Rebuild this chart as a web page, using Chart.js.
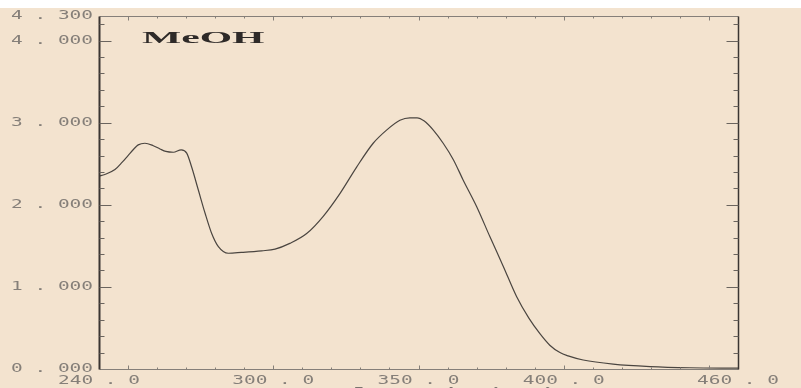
<!DOCTYPE html>
<html>
<head>
<meta charset="utf-8">
<script src="https://cdn.jsdelivr.net/npm/chart.js@4"></script>
<style>
  html, body { margin: 0; padding: 0; background: #f3e3cf; overflow: hidden; }
</style>
</head>
<body>
<canvas id="spectrum" width="801" height="388"></canvas>
<script>
// UV-Vis absorption spectrum in methanol
const wavelengths = [240, 242, 245.5, 248, 250, 252, 253.5, 255.8, 258.7, 261,
  263, 265.6, 268.3, 270.2, 271.9, 274.2, 276.5, 278.8, 281.1, 284.5,
  289, 296, 300.6, 305.7, 311.5, 317.2, 323, 328.7, 334.4, 339,
  343.6, 347, 349.5, 352, 355.1, 358.5, 362, 365.4, 370, 374.6,
  379.2, 383.8, 388, 391.8, 395.2, 398.7, 401.5, 406.7, 417, 429.7,
  443.4, 460];
const absorbance = [2.35, 2.37, 2.43, 2.52, 2.60, 2.68, 2.73, 2.75, 2.72, 2.68,
  2.65, 2.64, 2.67, 2.63, 2.46, 2.18, 1.90, 1.65, 1.49, 1.41,
  1.42, 1.44, 1.46, 1.53, 1.65, 1.86, 2.14, 2.46, 2.75, 2.91,
  3.03, 3.06, 3.06, 3.02, 2.91, 2.75, 2.55, 2.30, 1.98, 1.61,
  1.25, 0.88, 0.62, 0.43, 0.29, 0.20, 0.16, 0.11, 0.06, 0.03,
  0.015, 0.01];

const yLabels = [0, 1, 2, 3, 4, 4.3];
const xLabels = [240, 300, 350, 400, 460];
const solvent = 'MeOH';
const xTitle = 'Wavelength (nm)';

const BG = '#f3e3cf';
const INK = '#3a3532';
const GREY = '#857f79';

// text stretched wide like the plotter font
function wideText(ctx, text, px, py, sx, align, baseline) {
  ctx.save();
  ctx.translate(px, py);
  ctx.scale(sx, 1);
  ctx.textAlign = align;
  ctx.textBaseline = baseline;
  ctx.fillText(text, 0, 0);
  ctx.restore();
}

function line(ctx, x1, y1, x2, y2) {
  ctx.beginPath();
  ctx.moveTo(x1, y1);
  ctx.lineTo(x2, y2);
  ctx.stroke();
}

const framePlugin = {
  id: 'frame',
  beforeDraw(chart) {
    const ctx = chart.ctx;
    ctx.save();
    ctx.fillStyle = BG;
    ctx.fillRect(0, 0, chart.width, chart.height);
    ctx.fillStyle = '#ffffff';
    ctx.fillRect(0, 0, chart.width, 8);
    ctx.restore();
  },
  afterDraw(chart) {
    const { ctx, chartArea: a, scales: { x, y } } = chart;
    const L = Math.round(a.left) + 0.5, R = Math.round(a.right) + 0.5;
    const T = Math.round(a.top) + 0.5, B = Math.round(a.bottom) + 0.5;
    ctx.save();

    // top and bottom axes
    ctx.strokeStyle = GREY;
    ctx.lineWidth = 1;
    line(ctx, L, T, R, T);
    line(ctx, L, B, R, B);
    for (let v = 250; v < 460; v += 10) {
      const px = Math.round(x.getPixelForValue(v)) + 0.5;
      const len = v % 50 === 0 ? 4 : 2;
      line(ctx, px, B, px, B - len);
      line(ctx, px, T, px, T + len);
    }

    // left and right axes
    ctx.strokeStyle = INK;
    ctx.lineWidth = 2;
    line(ctx, L, T, L, B);
    ctx.lineWidth = 1.5;
    line(ctx, R, T, R, B);
    ctx.lineWidth = 1;
    ctx.strokeStyle = '#6a645e';
    for (let i = 1; i < 22; i++) {
      const v = i * 0.2;
      const py = Math.round(y.getPixelForValue(v)) + 0.5;
      const len = i % 5 === 0 ? 12 : 5;
      line(ctx, L, py, L + len, py);
      line(ctx, R, py, R - len, py);
    }

    // tick labels
    ctx.fillStyle = GREY;
    ctx.font = '12px "DejaVu Sans Mono"';
    yLabels.forEach(v => {
      const s = v.toFixed(3).replace('.', ' . ');
      wideText(ctx, s, 93, y.getPixelForValue(v), 1.62, 'right', 'middle');
    });
    xLabels.forEach(v => {
      const s = v.toFixed(1).replace('.', ' . ');
      wideText(ctx, s, x.getPixelForValue(v), B + 5, 1.62, 'center', 'top');
    });

    // axis title, mostly below the bottom edge
    ctx.font = '13px "DejaVu Sans Mono"';
    ctx.fillStyle = '#7a746e';
    wideText(ctx, xTitle, (a.left + a.right) / 2, 397, 2.4, 'center', 'alphabetic');

    // solvent label
    ctx.font = 'bold 16px "Liberation Serif"';
    ctx.fillStyle = '#2e2a28';
    wideText(ctx, solvent, 142, 43, 2.6, 'left', 'alphabetic');

    ctx.restore();
  }
};

const ctx = document.getElementById('spectrum').getContext('2d');
new Chart(ctx, {
  type: 'line',
  data: {
    datasets: [{
      label: solvent,
      data: wavelengths.map((w, i) => ({ x: w, y: absorbance[i] })),
      borderColor: '#4a4540',
      borderWidth: 1.2,
      pointRadius: 0,
      cubicInterpolationMode: 'monotone',
      fill: false
    }]
  },
  options: {
    responsive: false,
    animation: false,
    layout: { padding: { left: 99, right: 63, top: 16, bottom: 19 } },
    plugins: { legend: { display: false }, tooltip: { enabled: false } },
    scales: {
      x: { type: 'linear', min: 240, max: 460, display: false },
      y: { type: 'linear', min: 0, max: 4.3, display: false }
    }
  },
  plugins: [framePlugin]
});
</script>
</body>
</html>
